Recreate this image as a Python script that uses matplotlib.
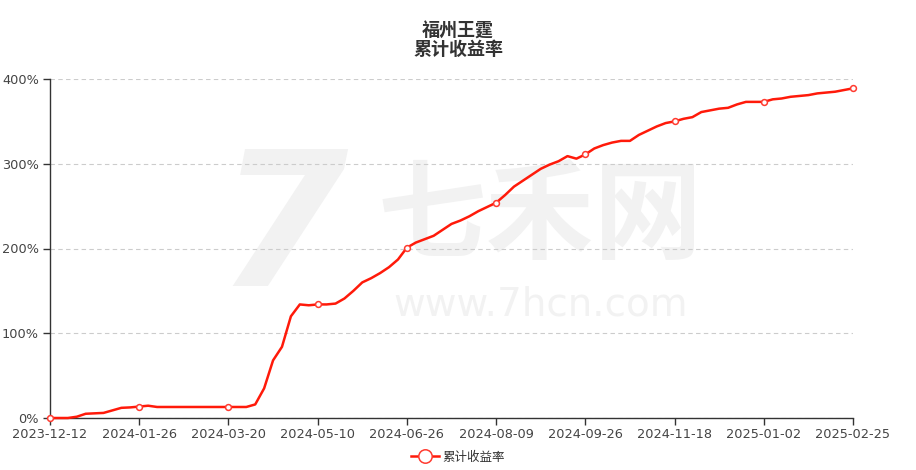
import numpy as np
import matplotlib
matplotlib.use("Agg")
import matplotlib.pyplot as plt

plt.rcParams['font.family'] = ['Noto Sans CJK SC', 'DejaVu Sans']

title_name = "福州王霆"
title_metric = "累计收益率"
series_name = "累计收益率"

tick_dates = ["2023-12-12", "2024-01-26", "2024-03-20", "2024-05-10", "2024-06-26",
              "2024-08-09", "2024-09-26", "2024-11-18", "2025-01-02", "2025-02-25"]

# cumulative return (%), sampled evenly between the tick dates (10 steps per tick)
returns = [
    0, 0, 0, 1.5, 5, 5.5, 6, 9, 12, 12.5,
    13.5, 14.5, 13, 13, 13, 13, 13, 13, 13, 13,
    13, 13, 13, 16, 35, 68, 84, 120, 134, 133,
    134, 134, 135, 141, 150, 160, 165, 171, 178, 187,
    201, 207, 211, 215, 222, 229, 233, 238, 244, 249,
    254, 263, 273, 280, 287, 294, 299, 303, 309, 306,
    311, 318, 322, 325, 327, 327, 334, 339, 344, 348,
    350, 353, 355, 361, 363, 365, 366, 370, 373, 373,
    373, 376, 377, 379, 380, 381, 383, 384, 385, 387,
    389,
]
steps_per_tick = 10

fig = plt.figure(figsize=(9.16, 4.70), dpi=100)
ax = fig.add_axes([50 / 916, 1 - 418 / 470, (853 - 50) / 916, (418 - 79) / 470])

# faint watermark, kept underneath the line
wm = "#f2f2f2"
ft = fig.transFigure
ax.text(0.308, 0.5, "7", fontsize=135, fontweight="bold", color=wm, transform=ft,
        ha="center", va="center", family="DejaVu Sans", style="italic", zorder=0)
ax.text(0.59, 0.535, "七禾网", fontsize=78, fontweight="bold", color=wm, transform=ft,
        ha="center", va="center", zorder=0)
ax.text(0.59, 0.352, "www.7hcn.com", fontsize=28, color=wm, transform=ft,
        ha="center", va="center", family="DejaVu Sans", zorder=0)

x = np.arange(len(returns))
ax.plot(x, returns, color="#ff1a0a", lw=1.8, solid_joinstyle="round",
        marker="o", markevery=steps_per_tick, markersize=4.2,
        markerfacecolor="white", markeredgecolor="#ff3b30", markeredgewidth=1.1,
        label=series_name, zorder=3, clip_on=False)

ax.set_xlim(0, len(returns) - 1)
ax.set_ylim(0, 400)
ax.set_xticks(np.arange(0, len(returns), steps_per_tick))
ax.set_xticklabels(tick_dates)
ax.set_yticks([0, 100, 200, 300, 400])
ax.set_yticklabels([f"{v}%" for v in [0, 100, 200, 300, 400]])

ax.set_facecolor("none")
ax.grid(axis="y", ls=(0, (4, 3)), color="#cccccc", lw=0.8, zorder=1)
for s in ["top", "right"]:
    ax.spines[s].set_visible(False)
for s in ["left", "bottom"]:
    ax.spines[s].set_color("#333333")
    ax.spines[s].set_linewidth(1)
ax.tick_params(axis="both", colors="#333333", labelcolor="#444444",
               labelsize=9.3, length=5, width=1)
ax.tick_params(axis="x", pad=2)
ax.tick_params(axis="y", pad=3)
for lbl in ax.get_xticklabels() + ax.get_yticklabels():
    lbl.set_family("DejaVu Sans")

fig.text(0.5, 1 - 31.5 / 470, title_name, ha="center", va="center",
         fontsize=13, fontweight="bold", color="#333333")
fig.text(0.5, 1 - 49.5 / 470, title_metric, ha="center", va="center",
         fontsize=13, fontweight="bold", color="#333333")

leg = fig.legend(loc="center", bbox_to_anchor=(0.5, 1 - 457 / 470), frameon=False,
                 fontsize=9, markerscale=2.3, handlelength=2.2, handletextpad=0.3)
for t in leg.get_texts():
    t.set_color("#333333")

fig.savefig("out.png", dpi=100)
